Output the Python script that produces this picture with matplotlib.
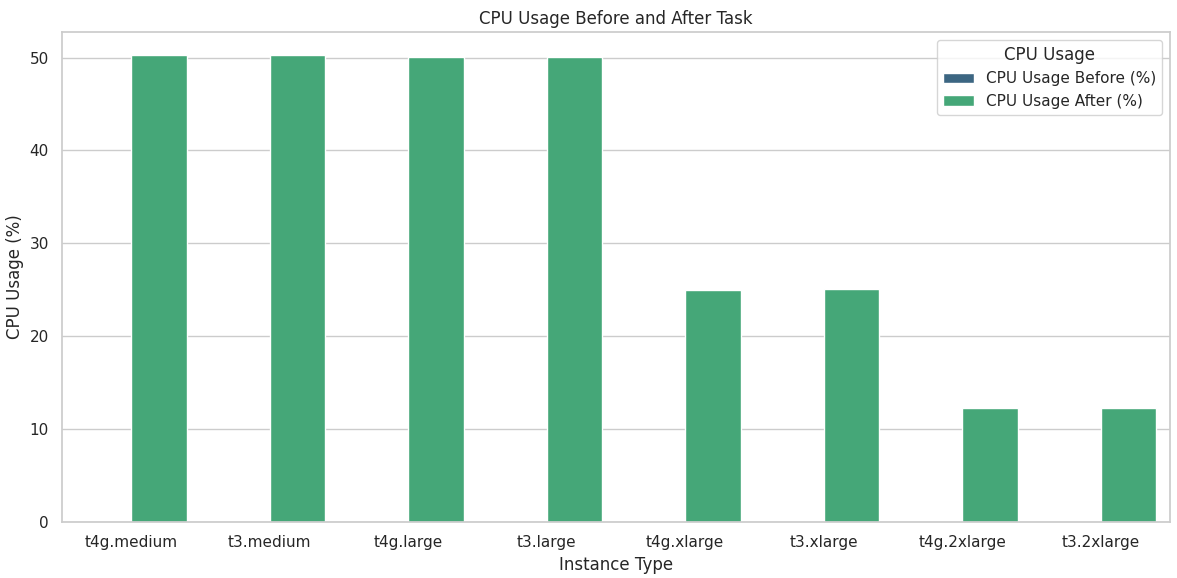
import pandas as pd
import seaborn as sns
import matplotlib
matplotlib.use('Agg')
import matplotlib.pyplot as plt

instances = ['t4g.medium', 't3.medium', 't4g.large', 't3.large',
             't4g.xlarge', 't3.xlarge', 't4g.2xlarge', 't3.2xlarge']
cpu_before = [0, 0, 0, 0, 0, 0, 0, 0]
cpu_after = [50.25, 50.25, 50.05, 50.05, 25.0, 25.1, 12.3, 12.3]

sns.set_theme(style='whitegrid')

d = pd.DataFrame({'Instance Type': instances,
                  'CPU Usage Before (%)': cpu_before,
                  'CPU Usage After (%)': cpu_after})
m = d.melt(id_vars='Instance Type', var_name='CPU Usage', value_name='CPU Usage (%)')

fig, ax = plt.subplots(figsize=(11.77, 5.78), dpi=100)
sns.barplot(data=m, x='Instance Type', y='CPU Usage (%)', hue='CPU Usage',
            palette='viridis', saturation=0.75, ax=ax)

ax.set_title('CPU Usage Before and After Task')
ax.legend(title='CPU Usage', loc='upper right')

fig.subplots_adjust(left=0.0527, right=0.994, top=0.9446, bottom=0.0972)
fig.savefig('out.png', dpi=100)
